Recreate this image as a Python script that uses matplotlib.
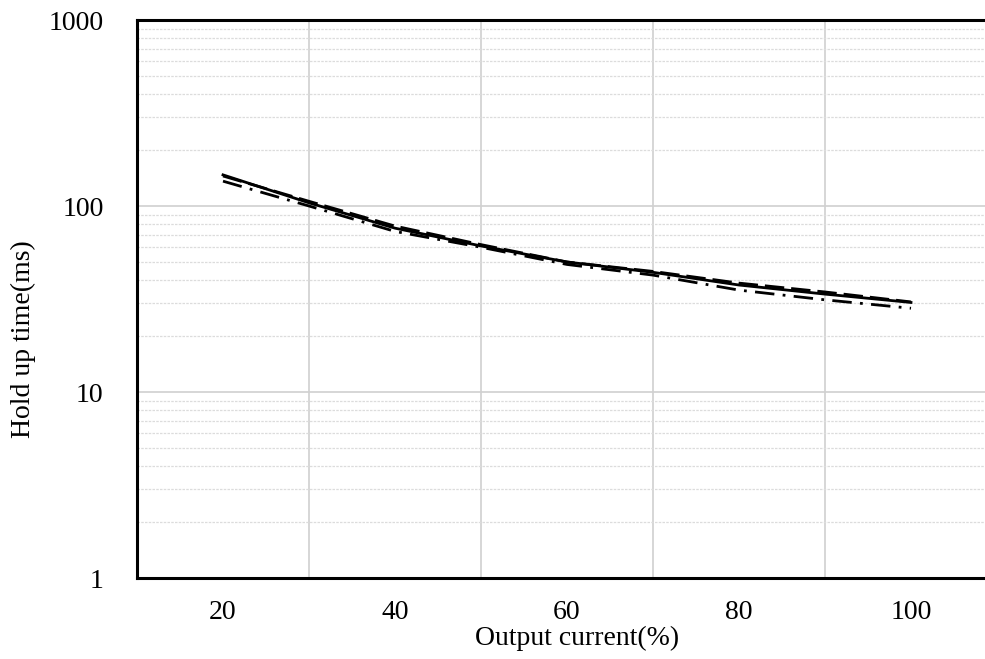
import matplotlib
matplotlib.use("Agg")
import matplotlib.pyplot as plt
from matplotlib.ticker import FixedLocator, NullFormatter, LogLocator

plt.rcParams['font.family'] = ['Liberation Serif', 'DejaVu Serif']

# Hold-up time versus output current for three input conditions
load_pct = [20, 30, 40, 50, 60, 70, 80, 90, 100]
hold_solid = [147, 104, 76, 61, 50, 44, 37.6, 33.6, 30.3]
hold_dashed = [145, 106, 78, 62, 50, 44.5, 38.5, 34.5, 30.5]
hold_dashdot = [136, 100, 73, 60, 48.5, 42.5, 35.3, 31.3, 28.2]

x_ticks = [20, 40, 60, 80, 100]
y_ticks = [1, 10, 100, 1000]
y_tick_labels = ["1", "10", "100", "1000"]

fig = plt.figure(figsize=(9.85, 6.59), dpi=100)
ax = fig.add_axes([137 / 985, 81 / 659, 848 / 985, 558 / 659])

ax.set_yscale("log")
ax.set_xlim(10, 10 + 848 / 8.6)
ax.set_ylim(1, 1000)

lw = 2.0
ax.plot(load_pct, hold_solid, color="black", lw=lw, ls="-", zorder=3)
ax.plot(load_pct, hold_dashed, color="black", lw=lw, ls=(0, (7, 2.5)), zorder=3)
ax.plot(load_pct, hold_dashdot, color="black", lw=lw, ls=(0, (7, 3, 1, 3)), zorder=3)

# grid: verticals every 10 %, log majors solid, minors dotted
ax.xaxis.set_major_locator(FixedLocator(x_ticks))
ax.xaxis.set_minor_locator(FixedLocator(list(range(20, 101, 10))))
ax.yaxis.set_major_locator(FixedLocator(y_ticks))
ax.yaxis.set_minor_locator(LogLocator(base=10, subs=range(2, 10)))
ax.yaxis.set_minor_formatter(NullFormatter())
ax.set_yticklabels(y_tick_labels)

ax.grid(which="minor", axis="x", color="#d0d0d0", lw=1.2, ls="-")
ax.grid(which="major", axis="y", color="#d0d0d0", lw=1.2, ls="-")
ax.grid(which="minor", axis="y", color="#dcdcdc", lw=0.9, ls=(0, (2, 1)))
ax.set_axisbelow(True)

ax.tick_params(which="both", length=0)
ax.tick_params(axis="x", pad=16, labelsize=20)
ax.tick_params(axis="y", pad=24, labelsize=20)

for side in ("left", "bottom", "top"):
    ax.spines[side].set_linewidth(2.2)
    ax.spines[side].set_color("black")
ax.spines["right"].set_visible(False)

ax.set_xlabel("Output current(%)", fontsize=20)
ax.set_ylabel("Hold up time(ms)", fontsize=20)
ax.xaxis.set_label_coords((577 - 137) / 848, -(626 - 578) / 558)
ax.yaxis.set_label_coords(-(137 - 36) / 848, (578 - 339) / 558)

fig.savefig("out.png", dpi=100)
